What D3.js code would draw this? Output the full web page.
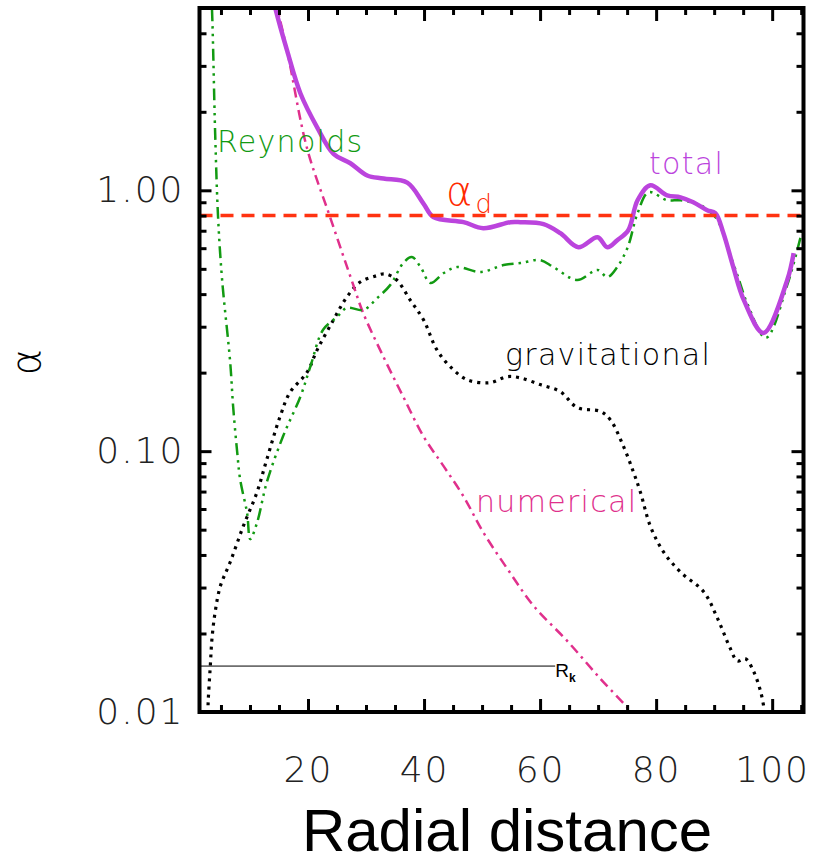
<!DOCTYPE html>
<html>
<head>
<meta charset="utf-8">
<script src="https://cdn.jsdelivr.net/npm/d3@7"></script>
<style>
  body { margin: 0; background: #fff; }
  svg { display: block; }
</style>
</head>
<body>
<svg id="chart" width="818" height="867"></svg>
<script>
// radial distance vs alpha, log y
const xMajor = [20, 40, 60, 80, 100];
const xMinor = d3.range(5, 106, 5).filter(d => d % 20 !== 0);
const yMajor = [0.01, 0.1, 1];
const yLabels = ["0.01", "0.10", "1.00"];
const yMinor = [0.02, 0.03, 0.04, 0.05, 0.06, 0.07, 0.08, 0.09,
                0.2, 0.3, 0.4, 0.5, 0.6, 0.7, 0.8, 0.9, 2, 3, 4, 5];

const alphaD = 0.8;
const rk = [[1.3, 0.015], [62.6, 0.015]];

const total = [
  [13.2, 6.5], [14.4, 4.96], [16.4, 3.43], [18.7, 2.35], [21.6, 1.74], [24.4, 1.38],
  [27.3, 1.27], [30.2, 1.14], [33.0, 1.11], [37.1, 1.07], [39.9, 0.89], [41.6, 0.79],
  [46.8, 0.755], [50.2, 0.716], [54.9, 0.755], [56.6, 0.755], [60.6, 0.742],
  [63.5, 0.685], [66.6, 0.605], [69.9, 0.661], [71.6, 0.605], [73.3, 0.644],
  [75.2, 0.703], [76.8, 0.916], [79.0, 1.045], [81.9, 0.957], [84.2, 0.94],
  [86.4, 0.90], [88.8, 0.839], [90.2, 0.817], [91.6, 0.685], [93.3, 0.508],
  [95.1, 0.38], [98.5, 0.284], [102.6, 0.453], [103.7, 0.574]
];

const reynolds = [
  [3.1, 7.0], [3.45, 4.96], [4.0, 1.65], [4.5, 0.79], [5.2, 0.453], [6.6, 0.218],
  [7.1, 0.148], [7.8, 0.099], [8.3, 0.078], [9.5, 0.058], [10.05, 0.046],
  [11.2, 0.053], [12.9, 0.076], [15.7, 0.114], [18.7, 0.162], [20.4, 0.211],
  [22.6, 0.292], [25.0, 0.327], [26.7, 0.354], [29.6, 0.348], [31.9, 0.386],
  [34.2, 0.434], [36.4, 0.526], [37.9, 0.555], [39.4, 0.508], [41.1, 0.441],
  [43.4, 0.482], [45.7, 0.508], [49.7, 0.486], [53.7, 0.517], [56.6, 0.526],
  [60.0, 0.54], [62.3, 0.508], [66.4, 0.453], [69.9, 0.495], [71.6, 0.465],
  [73.3, 0.508], [75.1, 0.605], [76.8, 0.817], [78.7, 0.983], [81.9, 0.916],
  [84.2, 0.916], [87.6, 0.877], [89.4, 0.824], [90.6, 0.768], [92.3, 0.605],
  [94.0, 0.473], [95.8, 0.364], [98.9, 0.272], [102.6, 0.434], [105.2, 0.703]
];

const numerical = [
  [13.2, 6.5], [14.7, 4.96], [16.4, 3.43], [19.8, 1.46], [23.8, 0.79], [27.8, 0.434],
  [29.5, 0.339], [33.0, 0.23], [36.4, 0.162], [39.9, 0.114], [43.4, 0.0874],
  [46.8, 0.0671], [50.2, 0.0489], [54.4, 0.0353], [58.9, 0.0255], [64.8, 0.0186],
  [70.4, 0.0134], [75.2, 0.0103], [76.5, 0.0094]
];

const gravitational = [
  [2.7, 0.0092], [2.8, 0.011], [3.16, 0.015], [3.45, 0.0191], [4.0, 0.0242],
  [4.9, 0.0304], [6.6, 0.0376], [8.85, 0.0516], [11.2, 0.0695], [12.9, 0.093],
  [15.2, 0.136], [16.9, 0.168], [19.8, 0.2], [21.6, 0.245], [24.4, 0.319],
  [26.7, 0.39], [29.0, 0.445], [31.6, 0.469], [33.3, 0.478], [35.3, 0.453],
  [37.6, 0.38], [39.9, 0.319], [42.2, 0.245], [44.5, 0.211], [47.4, 0.188],
  [51.4, 0.183], [54.3, 0.193], [56.6, 0.191], [60.0, 0.18], [63.5, 0.169],
  [66.4, 0.147], [70.4, 0.142], [72.1, 0.132], [74.4, 0.104], [76.1, 0.083],
  [77.3, 0.0695], [79.0, 0.0516], [81.3, 0.041], [84.2, 0.0344], [88.2, 0.0289],
  [90.6, 0.0228], [92.8, 0.0175], [94.0, 0.0157], [95.4, 0.016], [96.8, 0.0143],
  [98.0, 0.012], [98.7, 0.01], [98.9, 0.0092]
];

const svg = d3.select("#chart");
const plotLeft = 199.5, plotRight = 803.5, plotTop = 8, plotBottom = 712;

const x = d3.scaleLinear().domain([1.3, 105.4]).range([plotLeft, plotRight]);
const y = d3.scaleLog().domain([0.01, 5]).range([plotBottom, plotTop]);

const tickFont = "'DejaVu Sans', sans-serif";

svg.append("clipPath").attr("id", "plotclip")
  .append("rect")
  .attr("x", plotLeft).attr("y", plotTop)
  .attr("width", plotRight - plotLeft).attr("height", plotBottom - plotTop);

const line = d3.line()
  .x(d => x(d[0]))
  .y(d => y(d[1]))
  .curve(d3.curveCatmullRom);

const plot = svg.append("g").attr("clip-path", "url(#plotclip)");

// R_k marker
plot.append("path")
  .datum(rk)
  .attr("d", line)
  .attr("fill", "none")
  .attr("stroke", "#000")
  .attr("stroke-width", 1);

plot.append("path")
  .datum(gravitational)
  .attr("d", line)
  .attr("fill", "none")
  .attr("stroke", "#000")
  .attr("stroke-width", 3.2)
  .attr("stroke-dasharray", "3,5");

plot.append("path")
  .datum(numerical)
  .attr("d", line)
  .attr("fill", "none")
  .attr("stroke", "#e0308c")
  .attr("stroke-width", 2.5)
  .attr("stroke-dasharray", "10,5,2.5,5");

plot.append("path")
  .datum(reynolds)
  .attr("d", line)
  .attr("fill", "none")
  .attr("stroke", "#129a12")
  .attr("stroke-width", 2.5)
  .attr("stroke-dasharray", "12,5,2.5,5,2.5,5,2.5,5");

plot.append("path")
  .datum(total)
  .attr("d", line)
  .attr("fill", "none")
  .attr("stroke", "#bb44dd")
  .attr("stroke-width", 4.5);

plot.append("line")
  .attr("x1", x.range()[0]).attr("x2", x.range()[1])
  .attr("y1", y(alphaD)).attr("y2", y(alphaD))
  .attr("stroke", "#ff3311")
  .attr("stroke-width", 3.5)
  .attr("stroke-dasharray", "13,8");

// axes: ticks only, frame drawn separately
const styleAxis = g => {
  g.select(".domain").remove();
  g.selectAll(".tick line").attr("stroke", "#000").attr("stroke-width", 3);
  g.selectAll("text")
    .attr("fill", "#222")
    .style("font-family", tickFont)
    .style("font-weight", 200)
    .style("font-size", "36px")
    .style("letter-spacing", "2px");
};

svg.append("g").attr("transform", `translate(0,${plotBottom})`)
  .call(d3.axisBottom(x).tickValues(xMajor).tickSize(-13).tickPadding(44).tickFormat(d3.format("d")))
  .call(styleAxis);
svg.append("g").attr("transform", `translate(0,${plotBottom})`)
  .call(d3.axisBottom(x).tickValues(xMinor).tickSize(-7).tickFormat(""))
  .call(styleAxis);
svg.append("g").attr("transform", `translate(0,${plotTop})`)
  .call(d3.axisTop(x).tickValues(xMajor).tickSize(-13).tickFormat(""))
  .call(styleAxis);
svg.append("g").attr("transform", `translate(0,${plotTop})`)
  .call(d3.axisTop(x).tickValues(xMinor).tickSize(-7).tickFormat(""))
  .call(styleAxis);

svg.append("g").attr("transform", `translate(${plotLeft},0)`)
  .call(d3.axisLeft(y).tickValues(yMajor).tickSize(-12).tickPadding(15)
    .tickFormat((d, i) => yLabels[i]))
  .call(styleAxis);
svg.append("g").attr("transform", `translate(${plotLeft},0)`)
  .call(d3.axisLeft(y).tickValues(yMinor).tickSize(-7).tickFormat(""))
  .call(styleAxis);
svg.append("g").attr("transform", `translate(${plotRight},0)`)
  .call(d3.axisRight(y).tickValues(yMajor).tickSize(-12).tickFormat(""))
  .call(styleAxis);
svg.append("g").attr("transform", `translate(${plotRight},0)`)
  .call(d3.axisRight(y).tickValues(yMinor).tickSize(-7).tickFormat(""))
  .call(styleAxis);

svg.append("rect")
  .attr("x", plotLeft).attr("y", plotTop)
  .attr("width", plotRight - plotLeft).attr("height", plotBottom - plotTop)
  .attr("fill", "none")
  .attr("stroke", "#000")
  .attr("stroke-width", 4);

// axis titles
svg.append("text")
  .attr("x", 507).attr("y", 851)
  .attr("text-anchor", "middle")
  .style("font-family", "'Liberation Sans', Arial, sans-serif")
  .style("font-size", "60px")
  .text("Radial distance");

svg.append("text")
  .attr("transform", "translate(40,362) rotate(-90)")
  .attr("text-anchor", "middle")
  .style("font-family", "'DejaVu Sans', sans-serif")
  .style("font-weight", 200)
  .style("font-size", "40px")
  .text("α");

// curve labels
const label = (tx, ty, txt, color) => svg.append("text")
  .attr("x", tx).attr("y", ty)
  .attr("fill", color)
  .style("font-family", tickFont)
  .style("font-weight", 200)
  .style("font-size", "30px")
  .style("letter-spacing", "1.3px")
  .text(txt);

label(217, 152, "Reynolds", "#129a12");
label(649, 174, "total", "#bb44dd");
label(505, 365, "gravitational", "#000");
label(476, 512, "numerical", "#e0308c");

const ad = svg.append("text")
  .attr("x", 446).attr("y", 205)
  .attr("fill", "#ff2a00")
  .style("font-family", "'DejaVu Sans', sans-serif");
ad.append("tspan").style("font-size", "40px").style("font-weight", 200).text("α");
ad.append("tspan").attr("dy", 8).attr("dx", 3).style("font-size", "26px").style("font-weight", 200).text("d");

const rkLabel = svg.append("text")
  .attr("x", x(rk[1][0])).attr("y", 677)
  .attr("fill", "#000")
  .style("font-family", "'Liberation Sans', Arial, sans-serif");
rkLabel.append("tspan").style("font-size", "19px").text("R");
rkLabel.append("tspan").attr("dy", 5).style("font-size", "12px").style("font-weight", "bold").text("k");
</script>
</body>
</html>
